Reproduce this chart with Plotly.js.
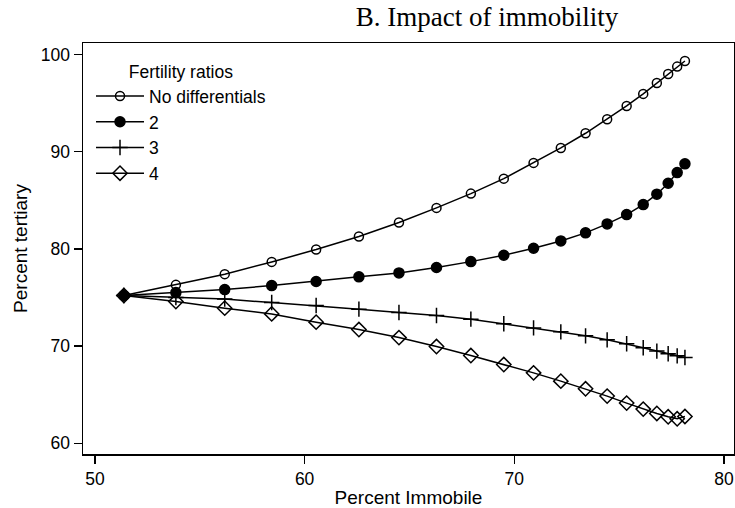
<!DOCTYPE html>
<html>
<head>
<meta charset="utf-8">
<script src="https://cdn.plot.ly/plotly-3.0.1.min.js"></script>
<style>html,body{margin:0;padding:0;background:#fff;}#chart{width:735px;height:508px;}</style>
</head>
<body>
<div id="chart"></div>
<script>
// Percent immobile (x) shared by all series
var xImmobile = [51.38, 53.86, 56.19, 58.43, 60.55, 62.59, 64.50, 66.29, 67.93, 69.50,
                 70.92, 72.22, 73.40, 74.43, 75.36, 76.15, 76.80, 77.34, 77.77, 78.14];
// Percent tertiary by fertility ratio
var noDiff = [75.21, 76.31, 77.41, 78.67, 79.94, 81.28, 82.72, 84.23, 85.70, 87.24,
              88.86, 90.40, 91.91, 93.35, 94.72, 95.96, 97.09, 98.01, 98.77, 99.35];
var ratio2 = [75.21, 75.51, 75.82, 76.23, 76.65, 77.13, 77.54, 78.09, 78.70, 79.36,
              80.08, 80.83, 81.66, 82.58, 83.54, 84.57, 85.64, 86.77, 87.86, 88.76];
var ratio3 = [75.21, 75.00, 74.84, 74.49, 74.18, 73.81, 73.46, 73.15, 72.78, 72.30,
              71.88, 71.47, 71.06, 70.65, 70.24, 69.83, 69.49, 69.21, 69.00, 68.83];
var ratio4 = [75.21, 74.59, 73.91, 73.32, 72.47, 71.71, 70.88, 69.96, 69.03, 68.11,
              67.25, 66.40, 65.61, 64.86, 64.14, 63.52, 63.07, 62.73, 62.52, 62.76];
var seriesNames = ['No differentials', '2', '3', '4'];
var xTicks = [50, 60, 70, 80];
var yTicks = [60, 70, 80, 90, 100];

var sans = 'Liberation Sans, Arial, Helvetica, sans-serif';
var serif = 'Liberation Serif, Times New Roman, serif';

function tr(y, name, symbol, size, group) {
  return {
    x: xImmobile, y: y, name: name, type: 'scatter', mode: 'lines+markers',
    legendgroup: group,
    line: {color: '#000', width: 1.5},
    marker: {symbol: symbol, size: size, color: '#000', line: {color: '#000', width: 1.5}}
  };
}

var data = [
  tr(noDiff, seriesNames[0], 'circle-open', 9, 'a'),
  tr(ratio2, seriesNames[1], 'circle', 10, 'b'),
  tr(ratio3, seriesNames[2], 'cross-thin-open', 11, 'c'),
  tr(ratio4, seriesNames[3], 'diamond-open', 11, 'd')
];

var axisCommon = {
  showline: true, linecolor: '#000', linewidth: 1.5, mirror: true,
  showgrid: false, zeroline: false,
  ticks: 'outside', ticklen: 8, tickwidth: 1.3, tickcolor: '#000',
  tickfont: {family: sans, size: 17.5, color: '#000'}
};

var layout = {
  width: 735, height: 508,
  paper_bgcolor: '#fff', plot_bgcolor: '#fff',
  margin: {l: 83, r: 1, t: 43, b: 54},
  title: {
    text: 'B. Impact of immobility',
    font: {family: serif, size: 27, color: '#000'},
    x: 487 / 735, xanchor: 'center', xref: 'container',
    y: 1 - 17 / 508, yanchor: 'middle', yref: 'container'
  },
  xaxis: Object.assign({}, axisCommon, {
    range: [49.43, 80.48], tickvals: xTicks, ticktext: xTicks.map(String),
    title: {text: 'Percent Immobile', font: {family: sans, size: 19, color: '#000'}, standoff: 4}
  }),
  yaxis: Object.assign({}, axisCommon, {
    range: [58.9, 101.2], tickvals: yTicks, ticktext: yTicks.map(String),
    title: {text: 'Percent tertiary', font: {family: sans, size: 19, color: '#000'}, standoff: 8}
  }),
  showlegend: true,
  legend: {
    x: 0.0123, y: 0.97, xanchor: 'left', yanchor: 'top',
    bgcolor: 'rgba(0,0,0,0)', borderwidth: 0,
    font: {family: sans, size: 17.5, color: '#000'},
    title: {text: 'Fertility ratios', side: 'top center', font: {family: sans, size: 17.5, color: '#000'}},
    itemwidth: 48, tracegroupgap: 0, traceorder: 'grouped'
  }
};

Plotly.newPlot('chart', data, layout, {staticPlot: true, displayModeBar: false});
</script>
</body>
</html>
